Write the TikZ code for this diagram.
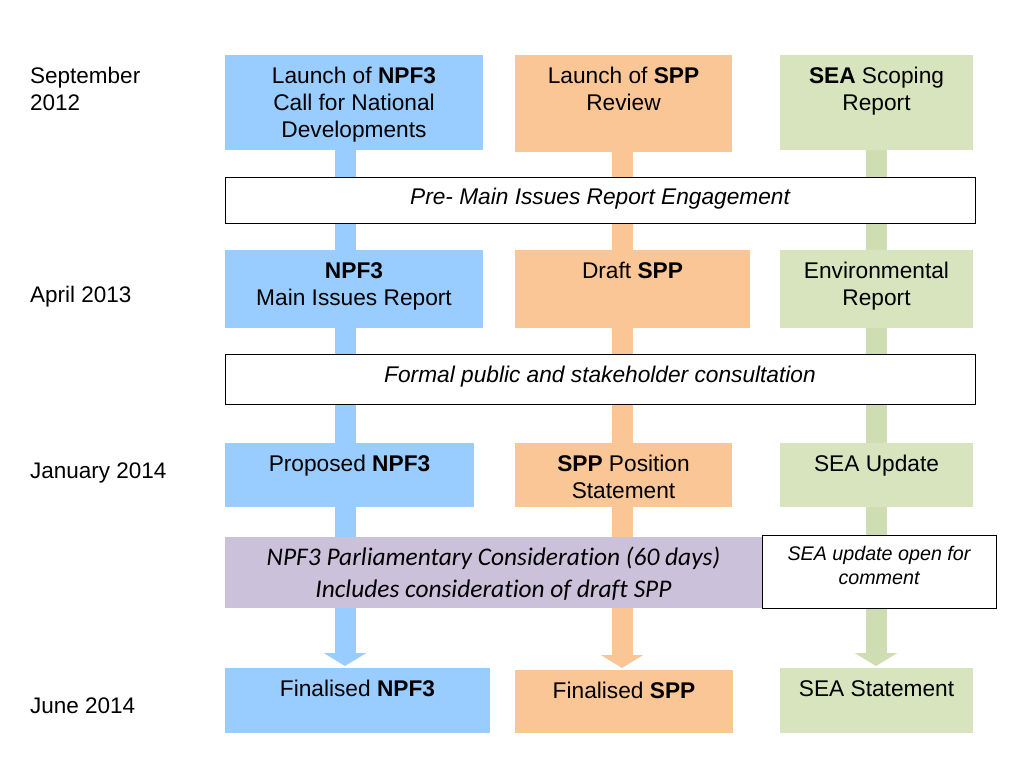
\documentclass[tikz,border=0pt]{standalone}
\usepackage{fontspec}
\setmainfont{Liberation Sans}
\newfontfamily\calib[Ligatures=NoCommon]{Carlito}
\usetikzlibrary{arrows.meta,backgrounds}
\definecolor{cblue}{RGB}{153,204,255}
\definecolor{corange}{RGB}{251,198,150}
\definecolor{cgreen}{RGB}{215,228,189}
\definecolor{cgreenshaft}{RGB}{206,221,178}
\definecolor{cpurple}{RGB}{204,193,218}
\newcommand\bt[4][28pt]{\parbox[c][#3][t]{#2}{\centering\rule{0pt}{#1}#4}}
\begin{document}
\begin{tikzpicture}[x=1pt,y=-1pt,
  box/.style={inner sep=0pt, outer sep=0pt, anchor=north west, font=\fontsize{22.7}{27.2}\selectfont},
  wbox/.style={box, fill=white, draw=black, line width=0.9pt, font=\fontsize{22.7}{27.2}\selectfont\itshape},
  datelbl/.style={anchor=base west, inner sep=0pt, align=left, font=\fontsize{22.5}{27}\selectfont},
  shaft/.style={line width=21pt, -{Triangle[width=42pt,length=13pt]}, shorten >=2pt}]
\useasboundingbox (0,0) rectangle (1024,768);
% dates
\node[datelbl] (d1) at (30,110) {September\\2012};
\node[datelbl] (d2) at (30,302) {April 2013};
\node[datelbl] (d3) at (30,478) {January 2014};
\node[datelbl] (d4) at (30,713) {June 2014};
% blue column
\node[box, fill=cblue] (b1) at (225,55) {\bt{258pt}{95pt}{Launch of \textbf{NPF3}\\Call for National\\Developments}};
\node[box, fill=cblue] (b2) at (225,250) {\bt{258pt}{78pt}{\textbf{NPF3}\\Main Issues Report}};
\node[box, fill=cblue] (b3) at (225,443) {\bt{249pt}{64pt}{Proposed \textbf{NPF3}}};
\node[box, fill=cblue] (b4) at (225,668) {\bt{265pt}{65pt}{Finalised \textbf{NPF3}}};
% orange column
\node[box, fill=corange] (o1) at (515,55) {\bt{217pt}{97pt}{Launch of \textbf{SPP}\\Review}};
\node[box, fill=corange] (o2) at (515,250) {\bt{235pt}{78pt}{Draft \textbf{SPP}}};
\node[box, fill=corange] (o3) at (515,443) {\bt{217pt}{64pt}{\textbf{SPP} Position\\Statement}};
\node[box, fill=corange] (o4) at (515,670) {\bt{218pt}{63pt}{Finalised \textbf{SPP}}};
% green column
\node[box, fill=cgreen] (g1) at (780,55) {\bt{193pt}{95pt}{\textbf{SEA} Scoping\\Report}};
\node[box, fill=cgreen] (g2) at (780,250) {\bt{193pt}{78pt}{Environmental\\Report}};
\node[box, fill=cgreen] (g3) at (780,443) {\bt{193pt}{64pt}{SEA Update}};
\node[box, fill=cgreen] (g4) at (780,668) {\bt{193pt}{65pt}{SEA Statement}};
% bands
\node[wbox] (pre) at (225,177) {\bt[27pt]{750pt}{46pt}{Pre- Main Issues Report Engagement}};
\node[wbox] (formal) at (225,354) {\bt{750pt}{50pt}{Formal public and stakeholder consultation}};
\node[box, fill=cpurple, font=\calib\itshape\fontsize{25.4}{32}\selectfont] (parl) at (225,537) {\bt{537pt}{71pt}{NPF3 Parliamentary Consideration (60 days)\\Includes consideration of draft SPP}};
\node[wbox, font=\fontsize{19.7}{24}\selectfont\itshape] (seaup) at (762,535) {\bt[25pt]{234pt}{73pt}{SEA update open for\\comment}};
% shafts
\coordinate (bx) at (345,0);
\coordinate (ox) at (622,0);
\coordinate (gx) at (876,0);
\begin{scope}[on background layer]
\fill[white] (0,0) rectangle (1024,768);
\draw[shaft, draw=cblue] (b1.south -| bx) -- (b4.north -| bx);
\draw[shaft, draw=corange] (o1.south -| ox) -- (o4.north -| ox);
\draw[shaft, draw=cgreenshaft] (g1.south -| gx) -- (g4.north -| gx);
\end{scope}
\end{tikzpicture}
\end{document}
